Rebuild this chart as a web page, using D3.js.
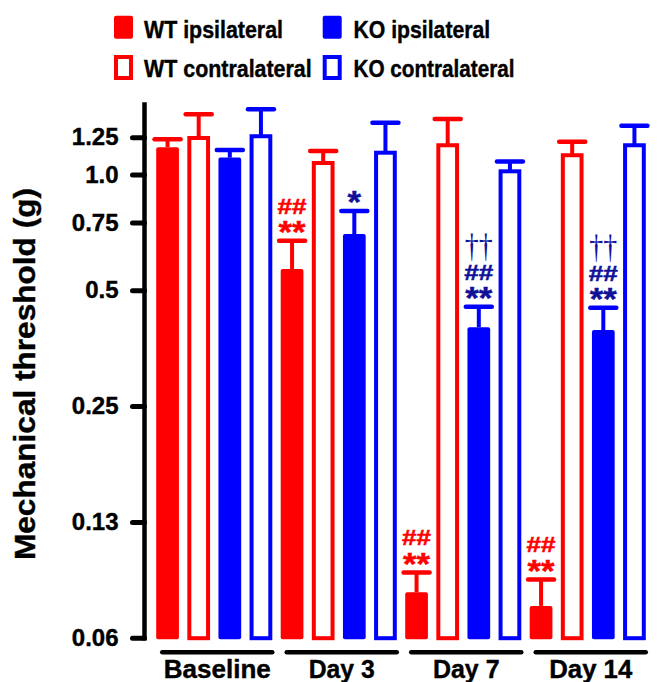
<!DOCTYPE html>
<html>
<head>
<meta charset="utf-8">
<script src="https://cdn.jsdelivr.net/npm/d3@7"></script>
<style>
  body { margin: 0; background: #fff; }
  svg { display: block; font-family: "Liberation Sans", Arial, sans-serif; font-weight: bold; }
</style>
</head>
<body>
<svg></svg>
<script>
// data
var groups = ["Baseline", "Day 3", "Day 7", "Day 14"];
var seriesNames = ["WT ipsilateral", "WT contralateral", "KO ipsilateral", "KO contralateral"];

var wtIpsi      = [1.177, 0.568, 0.082, 0.0756];
var wtIpsiSem   = [0.057, 0.104, 0.0104, 0.013];
var wtContra    = [1.244, 1.071, 1.191, 1.122];
var wtContraSem = [0.19, 0.08, 0.203, 0.095];
var koIpsi      = [1.106, 0.70, 0.401, 0.394];
var koIpsiSem   = [0.051, 0.104, 0.052, 0.056];
var koContra    = [1.257, 1.139, 1.019, 1.191];
var koContraSem = [0.22, 0.224, 0.061, 0.148];

var yTicks      = [0.0625, 0.125, 0.25, 0.5, 0.75, 1.0, 1.25];
var yTickLabels = ["0.06", "0.13", "0.25", "0.5", "0.75", "1.0", "1.25"];

// significance marks (bottom line first)
var sigGroup  = ["Day 3", "Day 3", "Day 7", "Day 7", "Day 14", "Day 14"];
var sigSeries = ["WT ipsilateral", "KO ipsilateral", "WT ipsilateral", "KO ipsilateral", "WT ipsilateral", "KO ipsilateral"];
var sigMarks  = [["**", "##"], ["*"], ["**", "##"], ["**", "##", "††"], ["**", "##"], ["**", "##", "††"]];

var RED = "#ff0000", BLUE = "#0000ff", NAVY = "#10109a";

var svg = d3.select("svg").attr("width", 659).attr("height", 682);
svg.append("rect").attr("width", 659).attr("height", 682).attr("fill", "#fff");

var means = [wtIpsi, wtContra, koIpsi, koContra];
var sems = [wtIpsiSem, wtContraSem, koIpsiSem, koContraSem];
var rows = [];
groups.forEach(function(g, gi) {
    seriesNames.forEach(function(s, si) {
        rows.push({group: g, series: s, si: si, v: means[si][gi], e: sems[si][gi]});
    });
});

var x0 = d3.scaleBand().domain(groups).range([152, 650]).paddingInner(0).paddingOuter(0);
var x1 = d3.scaleBand().domain(seriesNames).range([0, x0.bandwidth()])
    .paddingInner(0.27).paddingOuter(0.135);
var y = d3.scaleLog().base(2).domain([0.0625, 1.52]).range([637.7, 104.5]);

function col(si) { return si < 2 ? RED : BLUE; }
function bx(d) { return x0(d.group) + x1(d.series); }
var bw = x1.bandwidth();
var yBase = y(0.0625);

// error bars (upward only)
var eb = svg.append("g");
rows.forEach(function(d) {
    var cx = bx(d) + bw / 2;
    eb.append("line")
        .attr("x1", cx).attr("x2", cx)
        .attr("y1", y(d.v)).attr("y2", y(d.v + d.e))
        .attr("stroke", col(d.si)).attr("stroke-width", 4);
    eb.append("line")
        .attr("x1", cx - 13).attr("x2", cx + 13)
        .attr("y1", y(d.v + d.e)).attr("y2", y(d.v + d.e))
        .attr("stroke", col(d.si)).attr("stroke-width", 4.5)
        .attr("stroke-linecap", "round");
});

// bars
svg.append("g").selectAll("rect")
    .data(rows)
    .enter().append("rect")
    .attr("x", function(d) { return d.si % 2 === 0 ? bx(d) : bx(d) + 2; })
    .attr("width", function(d) { return d.si % 2 === 0 ? bw : bw - 4; })
    .attr("y", function(d) { return y(d.v); })
    .attr("height", function(d) { return (d.si % 2 === 0 ? yBase + 1.5 : yBase + 0.5) - y(d.v); })
    .attr("rx", function(d) { return d.si % 2 === 0 ? 2 : 0; })
    .attr("fill", function(d) { return d.si % 2 === 0 ? col(d.si) : "#fff"; })
    .attr("stroke", function(d) { return d.si % 2 === 0 ? "none" : col(d.si); })
    .attr("stroke-width", 4);

// y axis
var yAxis = d3.axisLeft(y)
    .tickValues(yTicks)
    .tickFormat(function(d, i) { return yTickLabels[i]; })
    .tickSize(13).tickSizeOuter(0).tickPadding(13);
var ga = svg.append("g").attr("transform", "translate(144.5,0)").call(yAxis);
ga.select(".domain").attr("stroke", "#000").attr("stroke-width", 4.5)
    .attr("stroke-linecap", "square")
    .attr("d", "M0," + y(1.52) + "V" + (yBase + 0.5));
ga.selectAll(".tick line").attr("stroke", "#000").attr("stroke-width", 5)
    .attr("stroke-linecap", "round").attr("x2", -12);
ga.selectAll(".tick text").attr("fill", "#000")
    .attr("stroke", "#000").attr("stroke-width", 0.4)
    .style("font-size", "24px").style("font-weight", "bold")
    .style("font-family", "'Liberation Sans', Arial, sans-serif");

svg.append("text")
    .attr("transform", "translate(35,374) rotate(-90)")
    .attr("text-anchor", "middle")
    .attr("font-size", 30)
    .attr("stroke", "#000").attr("stroke-width", 0.4)
    .attr("textLength", 372).attr("lengthAdjust", "spacingAndGlyphs")
    .text("Mechanical threshold (g)");

// group labels under the axis
var xLabelLen = [107, 66, 66.6, 83];
groups.forEach(function(g, gi) {
    var cx = x0(g) + x0.bandwidth() / 2 + 3;
    svg.append("line")
        .attr("x1", cx - 55).attr("x2", cx + 55)
        .attr("y1", 652.3).attr("y2", 652.3)
        .attr("stroke", "#000").attr("stroke-width", 4.5).attr("stroke-linecap", "round");
    svg.append("text")
        .attr("x", cx).attr("y", 678.3)
        .attr("text-anchor", "middle")
        .attr("font-size", 25)
        .attr("stroke", "#000").attr("stroke-width", 0.4)
        .attr("textLength", xLabelLen[gi]).attr("lengthAdjust", "spacingAndGlyphs")
        .text(g);
});

// measure real glyph extents so marks can be placed by their ink
var ctx = document.createElement("canvas").getContext("2d");
function ink(str, family, weight) {
    ctx.font = weight + " 100px " + family;
    var m = ctx.measureText(str);
    return {asc: m.actualBoundingBoxAscent / 100, desc: m.actualBoundingBoxDescent / 100};
}
var SANS = "'Liberation Sans', Arial, sans-serif";
var SERIF = "'Liberation Serif', 'Times New Roman', serif";
// ink box of each kind of mark, measured from the cap: [top, bottom, width]
function markSpec(m) {
    if (m.charAt(0) === "*") return {top: 19.6, bot: 7.5, w: m.length * 13.5, fam: SANS, wt: "bold"};
    if (m.charAt(0) === "#") return {top: 42, bot: 27, w: 29, fam: SANS, wt: "bold"};
    return {top: 72.3, bot: 45.6, w: 28, fam: SERIF, wt: "normal"};
}

sigGroup.forEach(function(g, k) {
    var si = seriesNames.indexOf(sigSeries[k]);
    var gi = groups.indexOf(g);
    var cx = bx({group: g, series: sigSeries[k]}) + bw / 2;
    var cap = y(means[si][gi] + sems[si][gi]);
    var c = si < 2 ? RED : NAVY;
    var t = svg.append("text").attr("fill", c).attr("text-anchor", "middle");
    sigMarks[k].forEach(function(m) {
        var sp = markSpec(m);
        var b = ink(m, sp.fam, sp.wt);
        var fs = (sp.top - sp.bot) / (b.asc + b.desc);
        var base = cap - sp.bot - b.desc * fs;
        t.append("tspan")
            .attr("x", cx).attr("y", base)
            .style("font-family", sp.fam).style("font-weight", sp.wt)
            .style("font-size", fs + "px")
            .attr("stroke", sp.wt === "bold" ? c : "none").attr("stroke-width", 0.5)
            .attr("textLength", sp.w).attr("lengthAdjust", "spacingAndGlyphs")
            .text(m);
    });
});

// legend
var legX = [114, 322.7], legTextX = [144, 353.5];
var legRowY = [15.7, 55], legBaseY = [37.5, 77];
var legLen = [139, 167.7, 136.7, 161];
seriesNames.forEach(function(s, si) {
    var c = Math.floor(si / 2), r = si % 2;
    if (r === 0) {
        svg.append("rect").attr("x", legX[c]).attr("y", legRowY[r])
            .attr("width", 19).attr("height", 23).attr("rx", 2).attr("fill", col(si));
    } else {
        svg.append("rect").attr("x", legX[c] + 2).attr("y", legRowY[r] + 2)
            .attr("width", 15).attr("height", 21).attr("fill", "#fff")
            .attr("stroke", col(si)).attr("stroke-width", 4);
    }
    svg.append("text").attr("x", legTextX[c]).attr("y", legBaseY[r])
        .attr("font-size", 23.5)
        .attr("stroke", "#000").attr("stroke-width", 0.4)
        .attr("textLength", legLen[si]).attr("lengthAdjust", "spacingAndGlyphs")
        .text(s);
});
</script>
</body>
</html>
